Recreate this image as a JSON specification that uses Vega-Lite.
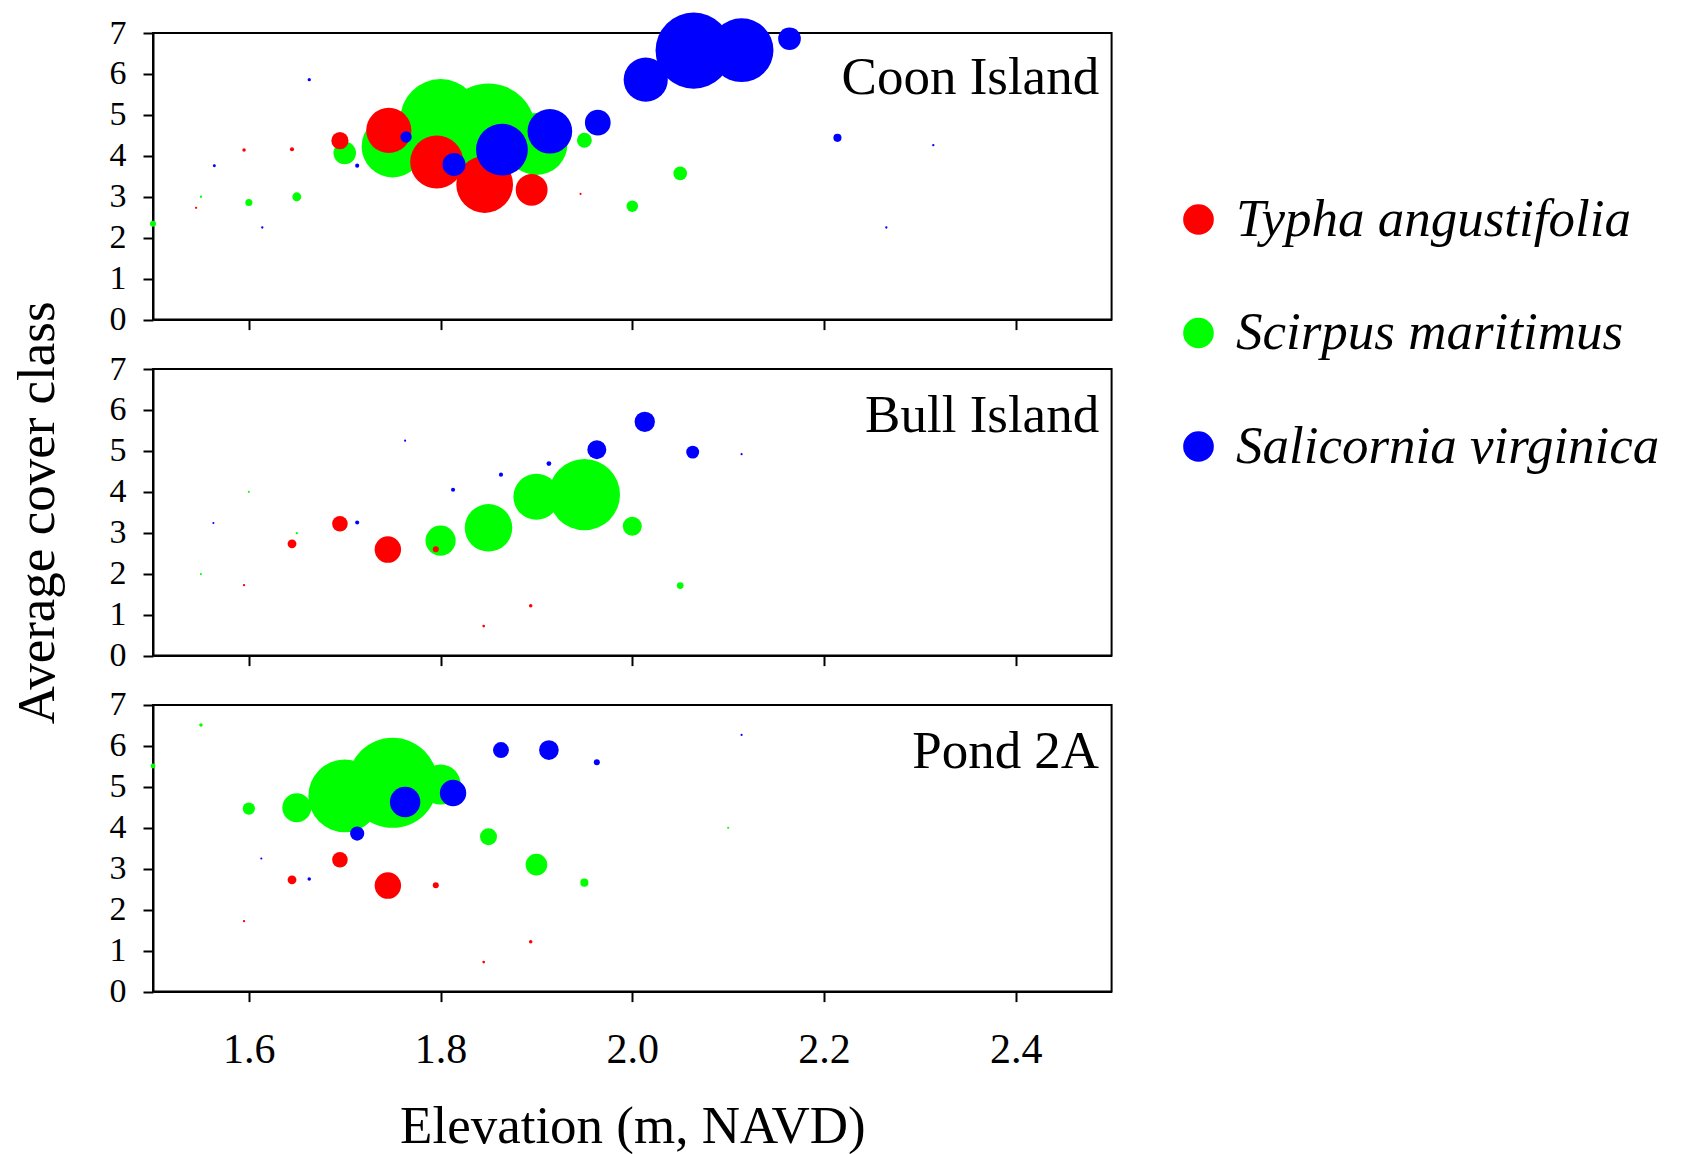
{
  "$schema": "https://vega.github.io/schema/vega-lite/v6.json",
  "background": "white",
  "padding": {"left": 11, "top": 11, "right": 0, "bottom": 0},
  "config": {
    "font": "Liberation Serif",
    "view": {"stroke": "black", "strokeWidth": 2},
    "axis": {"domainColor": "black", "domainWidth": 2, "tickColor": "black", "tickWidth": 2, "tickSize": 10, "grid": false, "labelColor": "black", "titleColor": "black", "labelFont": "Liberation Serif", "titleFont": "Liberation Serif", "titleFontWeight": "normal"},
    "legend": {"labelFont": "Liberation Serif"}
  },
  "datasets": {
    "points": [
      {"site": "Coon Island", "species": "Scirpus maritimus", "elev": 1.50, "cover": 2.34, "freq": 0.41},
      {"site": "Coon Island", "species": "Scirpus maritimus", "elev": 1.55, "cover": 3.00, "freq": 0.06},
      {"site": "Coon Island", "species": "Scirpus maritimus", "elev": 1.60, "cover": 2.86, "freq": 0.57},
      {"site": "Coon Island", "species": "Scirpus maritimus", "elev": 1.65, "cover": 3.00, "freq": 0.89},
      {"site": "Coon Island", "species": "Scirpus maritimus", "elev": 1.70, "cover": 4.07, "freq": 5.74},
      {"site": "Coon Island", "species": "Scirpus maritimus", "elev": 1.75, "cover": 4.23, "freq": 43.6},
      {"site": "Coon Island", "species": "Scirpus maritimus", "elev": 1.80, "cover": 4.89, "freq": 73.7},
      {"site": "Coon Island", "species": "Scirpus maritimus", "elev": 1.85, "cover": 4.62, "freq": 100},
      {"site": "Coon Island", "species": "Scirpus maritimus", "elev": 1.90, "cover": 4.29, "freq": 43.6},
      {"site": "Coon Island", "species": "Scirpus maritimus", "elev": 1.95, "cover": 4.38, "freq": 2.51},
      {"site": "Coon Island", "species": "Scirpus maritimus", "elev": 2.00, "cover": 2.77, "freq": 1.5},
      {"site": "Coon Island", "species": "Scirpus maritimus", "elev": 2.05, "cover": 3.57, "freq": 2.11},
      {"site": "Coon Island", "species": "Typha angustifolia", "elev": 1.545, "cover": 2.73, "freq": 0.06},
      {"site": "Coon Island", "species": "Typha angustifolia", "elev": 1.595, "cover": 4.14, "freq": 0.14},
      {"site": "Coon Island", "species": "Typha angustifolia", "elev": 1.645, "cover": 4.16, "freq": 0.19},
      {"site": "Coon Island", "species": "Typha angustifolia", "elev": 1.695, "cover": 4.37, "freq": 3.35},
      {"site": "Coon Island", "species": "Typha angustifolia", "elev": 1.746, "cover": 4.62, "freq": 23.1},
      {"site": "Coon Island", "species": "Typha angustifolia", "elev": 1.796, "cover": 3.85, "freq": 32.0},
      {"site": "Coon Island", "species": "Typha angustifolia", "elev": 1.846, "cover": 3.30, "freq": 36.5},
      {"site": "Coon Island", "species": "Typha angustifolia", "elev": 1.895, "cover": 3.17, "freq": 11.5},
      {"site": "Coon Island", "species": "Typha angustifolia", "elev": 1.946, "cover": 3.07, "freq": 0.05},
      {"site": "Coon Island", "species": "Salicornia virginica", "elev": 1.564, "cover": 3.76, "freq": 0.1},
      {"site": "Coon Island", "species": "Salicornia virginica", "elev": 1.614, "cover": 2.25, "freq": 0.06},
      {"site": "Coon Island", "species": "Salicornia virginica", "elev": 1.663, "cover": 5.86, "freq": 0.12},
      {"site": "Coon Island", "species": "Salicornia virginica", "elev": 1.713, "cover": 3.76, "freq": 0.19},
      {"site": "Coon Island", "species": "Salicornia virginica", "elev": 1.764, "cover": 4.46, "freq": 1.46},
      {"site": "Coon Island", "species": "Salicornia virginica", "elev": 1.814, "cover": 3.79, "freq": 6.0},
      {"site": "Coon Island", "species": "Salicornia virginica", "elev": 1.864, "cover": 4.15, "freq": 30.4},
      {"site": "Coon Island", "species": "Salicornia virginica", "elev": 1.914, "cover": 4.60, "freq": 22.6},
      {"site": "Coon Island", "species": "Salicornia virginica", "elev": 1.964, "cover": 4.81, "freq": 7.5},
      {"site": "Coon Island", "species": "Salicornia virginica", "elev": 2.014, "cover": 5.86, "freq": 22.1},
      {"site": "Coon Island", "species": "Salicornia virginica", "elev": 2.064, "cover": 6.57, "freq": 65.8},
      {"site": "Coon Island", "species": "Salicornia virginica", "elev": 2.114, "cover": 6.58, "freq": 46.1},
      {"site": "Coon Island", "species": "Salicornia virginica", "elev": 2.164, "cover": 6.86, "freq": 5.83},
      {"site": "Coon Island", "species": "Salicornia virginica", "elev": 2.214, "cover": 4.44, "freq": 0.75},
      {"site": "Coon Island", "species": "Salicornia virginica", "elev": 2.265, "cover": 2.25, "freq": 0.06},
      {"site": "Coon Island", "species": "Salicornia virginica", "elev": 2.314, "cover": 4.26, "freq": 0.06},

      {"site": "Bull Island", "species": "Scirpus maritimus", "elev": 1.55, "cover": 1.99, "freq": 0.05},
      {"site": "Bull Island", "species": "Scirpus maritimus", "elev": 1.60, "cover": 4.00, "freq": 0.05},
      {"site": "Bull Island", "species": "Scirpus maritimus", "elev": 1.65, "cover": 2.99, "freq": 0.06},
      {"site": "Bull Island", "species": "Scirpus maritimus", "elev": 1.80, "cover": 2.81, "freq": 10.3},
      {"site": "Bull Island", "species": "Scirpus maritimus", "elev": 1.85, "cover": 3.12, "freq": 25.6},
      {"site": "Bull Island", "species": "Scirpus maritimus", "elev": 1.90, "cover": 3.88, "freq": 24.1},
      {"site": "Bull Island", "species": "Scirpus maritimus", "elev": 1.95, "cover": 3.93, "freq": 57.5},
      {"site": "Bull Island", "species": "Scirpus maritimus", "elev": 2.00, "cover": 3.16, "freq": 4.08},
      {"site": "Bull Island", "species": "Scirpus maritimus", "elev": 2.05, "cover": 1.71, "freq": 0.51},
      {"site": "Bull Island", "species": "Typha angustifolia", "elev": 1.595, "cover": 1.72, "freq": 0.06},
      {"site": "Bull Island", "species": "Typha angustifolia", "elev": 1.645, "cover": 2.73, "freq": 0.89},
      {"site": "Bull Island", "species": "Typha angustifolia", "elev": 1.695, "cover": 3.22, "freq": 2.76},
      {"site": "Bull Island", "species": "Typha angustifolia", "elev": 1.745, "cover": 2.59, "freq": 7.9},
      {"site": "Bull Island", "species": "Typha angustifolia", "elev": 1.795, "cover": 2.60, "freq": 0.41},
      {"site": "Bull Island", "species": "Typha angustifolia", "elev": 1.845, "cover": 0.72, "freq": 0.08},
      {"site": "Bull Island", "species": "Typha angustifolia", "elev": 1.894, "cover": 1.22, "freq": 0.14},
      {"site": "Bull Island", "species": "Salicornia virginica", "elev": 1.563, "cover": 3.24, "freq": 0.05},
      {"site": "Bull Island", "species": "Salicornia virginica", "elev": 1.713, "cover": 3.25, "freq": 0.19},
      {"site": "Bull Island", "species": "Salicornia virginica", "elev": 1.763, "cover": 5.25, "freq": 0.05},
      {"site": "Bull Island", "species": "Salicornia virginica", "elev": 1.813, "cover": 4.05, "freq": 0.19},
      {"site": "Bull Island", "species": "Salicornia virginica", "elev": 1.863, "cover": 4.42, "freq": 0.19},
      {"site": "Bull Island", "species": "Salicornia virginica", "elev": 1.913, "cover": 4.69, "freq": 0.26},
      {"site": "Bull Island", "species": "Salicornia virginica", "elev": 1.963, "cover": 5.03, "freq": 4.08},
      {"site": "Bull Island", "species": "Salicornia virginica", "elev": 2.013, "cover": 5.71, "freq": 4.7},
      {"site": "Bull Island", "species": "Salicornia virginica", "elev": 2.063, "cover": 4.97, "freq": 1.9},
      {"site": "Bull Island", "species": "Salicornia virginica", "elev": 2.114, "cover": 4.92, "freq": 0.05},

      {"site": "Pond 2A", "species": "Scirpus maritimus", "elev": 1.50, "cover": 5.51, "freq": 0.26},
      {"site": "Pond 2A", "species": "Scirpus maritimus", "elev": 1.55, "cover": 6.51, "freq": 0.14},
      {"site": "Pond 2A", "species": "Scirpus maritimus", "elev": 1.60, "cover": 4.47, "freq": 1.7},
      {"site": "Pond 2A", "species": "Scirpus maritimus", "elev": 1.65, "cover": 4.49, "freq": 9.46},
      {"site": "Pond 2A", "species": "Scirpus maritimus", "elev": 1.70, "cover": 4.78, "freq": 59.8},
      {"site": "Pond 2A", "species": "Scirpus maritimus", "elev": 1.75, "cover": 5.10, "freq": 92.0},
      {"site": "Pond 2A", "species": "Scirpus maritimus", "elev": 1.80, "cover": 5.06, "freq": 18.2},
      {"site": "Pond 2A", "species": "Scirpus maritimus", "elev": 1.85, "cover": 3.78, "freq": 3.28},
      {"site": "Pond 2A", "species": "Scirpus maritimus", "elev": 1.90, "cover": 3.10, "freq": 5.3},
      {"site": "Pond 2A", "species": "Scirpus maritimus", "elev": 1.95, "cover": 2.66, "freq": 0.75},
      {"site": "Pond 2A", "species": "Scirpus maritimus", "elev": 2.10, "cover": 4.00, "freq": 0.05},
      {"site": "Pond 2A", "species": "Typha angustifolia", "elev": 1.595, "cover": 1.72, "freq": 0.06},
      {"site": "Pond 2A", "species": "Typha angustifolia", "elev": 1.645, "cover": 2.73, "freq": 0.89},
      {"site": "Pond 2A", "species": "Typha angustifolia", "elev": 1.695, "cover": 3.22, "freq": 2.76},
      {"site": "Pond 2A", "species": "Typha angustifolia", "elev": 1.745, "cover": 2.59, "freq": 7.9},
      {"site": "Pond 2A", "species": "Typha angustifolia", "elev": 1.795, "cover": 2.60, "freq": 0.41},
      {"site": "Pond 2A", "species": "Typha angustifolia", "elev": 1.845, "cover": 0.72, "freq": 0.08},
      {"site": "Pond 2A", "species": "Typha angustifolia", "elev": 1.894, "cover": 1.22, "freq": 0.14},
      {"site": "Pond 2A", "species": "Salicornia virginica", "elev": 1.613, "cover": 3.25, "freq": 0.05},
      {"site": "Pond 2A", "species": "Salicornia virginica", "elev": 1.663, "cover": 2.75, "freq": 0.14},
      {"site": "Pond 2A", "species": "Salicornia virginica", "elev": 1.713, "cover": 3.86, "freq": 2.28},
      {"site": "Pond 2A", "species": "Salicornia virginica", "elev": 1.763, "cover": 4.63, "freq": 10.5},
      {"site": "Pond 2A", "species": "Salicornia virginica", "elev": 1.813, "cover": 4.85, "freq": 7.9},
      {"site": "Pond 2A", "species": "Salicornia virginica", "elev": 1.863, "cover": 5.90, "freq": 2.88},
      {"site": "Pond 2A", "species": "Salicornia virginica", "elev": 1.913, "cover": 5.90, "freq": 4.39},
      {"site": "Pond 2A", "species": "Salicornia virginica", "elev": 1.963, "cover": 5.60, "freq": 0.41},
      {"site": "Pond 2A", "species": "Salicornia virginica", "elev": 2.114, "cover": 6.27, "freq": 0.05}
    ],
    "labels": [
      {"site": "Coon Island"},
      {"site": "Bull Island"},
      {"site": "Pond 2A"}
    ]
  },
  "bounds": "flush",
  "spacing": 49,
  "vconcat": [
    {
      "width": 958.6,
      "height": 286.6,
      "layer": [
        {
          "data": {"name": "points"},
          "transform": [{"filter": "datum.site === 'Coon Island'"}],
          "mark": {"type": "circle", "opacity": 1, "clip": false},
          "encoding": {
            "x": {"field": "elev", "type": "quantitative", "scale": {"domain": [1.5, 2.5], "nice": false, "zero": false}, "axis": {"values": [1.6, 1.8, 2.0, 2.2, 2.4], "labels": false, "title": null}},
            "y": {"field": "cover", "type": "quantitative", "scale": {"domain": [0, 7], "nice": false}, "axis": {"values": [0, 1, 2, 3, 4, 5, 6, 7], "labelFont": "Liberation Serif", "labelFontSize": 34, "labelPadding": 17, "title": null}},
            "color": {"field": "species", "type": "nominal", "scale": {"domain": ["Typha angustifolia", "Scirpus maritimus", "Salicornia virginica"], "range": ["#ff0000", "#00ff00", "#0000ff"]}, "legend": {"title": null, "orient": "none", "legendX": 1019, "legendY": 160, "padding": 0, "symbolType": "circle", "symbolSize": 940, "symbolStrokeWidth": 0, "symbolOpacity": 1, "labelFont": "Liberation Serif", "labelFontSize": 53, "labelFontStyle": "italic", "labelColor": "black", "labelOffset": 11, "labelBaseline": "middle", "rowPadding": 59.5, "labelLimit": 600}},
            "size": {"field": "freq", "type": "quantitative", "scale": {"domain": [0, 100], "range": [0, 8825]}, "legend": null}
          }
        },
        {
          "data": {"name": "labels"},
          "transform": [{"filter": "datum.site === 'Coon Island'"}],
          "mark": {"type": "text", "align": "right", "baseline": "alphabetic", "font": "Liberation Serif", "fontSize": 53, "color": "black"},
          "encoding": {"x": {"datum": 2.487}, "y": {"datum": 5.52}, "text": {"field": "site"}}
        }
      ]
    },
    {
      "width": 958.6,
      "height": 286.6,
      "layer": [
        {
          "data": {"name": "points"},
          "transform": [{"filter": "datum.site === 'Bull Island'"}],
          "mark": {"type": "circle", "opacity": 1, "clip": false},
          "encoding": {
            "x": {"field": "elev", "type": "quantitative", "scale": {"domain": [1.5, 2.5], "nice": false, "zero": false}, "axis": {"values": [1.6, 1.8, 2.0, 2.2, 2.4], "labels": false, "title": null}},
            "y": {"field": "cover", "type": "quantitative", "scale": {"domain": [0, 7], "nice": false}, "axis": {"values": [0, 1, 2, 3, 4, 5, 6, 7], "labelFont": "Liberation Serif", "labelFontSize": 34, "labelPadding": 17, "title": "Average cover class", "titleFont": "Liberation Serif", "titleFontSize": 53, "titlePadding": 44}},
            "color": {"field": "species", "type": "nominal"},
            "size": {"field": "freq", "type": "quantitative", "scale": {"domain": [0, 100], "range": [0, 8825]}, "legend": null}
          }
        },
        {
          "data": {"name": "labels"},
          "transform": [{"filter": "datum.site === 'Bull Island'"}],
          "mark": {"type": "text", "align": "right", "baseline": "alphabetic", "font": "Liberation Serif", "fontSize": 53, "color": "black"},
          "encoding": {"x": {"datum": 2.487}, "y": {"datum": 5.45}, "text": {"field": "site"}}
        }
      ]
    },
    {
      "width": 958.6,
      "height": 286.6,
      "layer": [
        {
          "data": {"name": "points"},
          "transform": [{"filter": "datum.site === 'Pond 2A'"}],
          "mark": {"type": "circle", "opacity": 1, "clip": false},
          "encoding": {
            "x": {"field": "elev", "type": "quantitative", "scale": {"domain": [1.5, 2.5], "nice": false, "zero": false}, "axis": {"values": [1.6, 1.8, 2.0, 2.2, 2.4], "format": ".1f", "labelFont": "Liberation Serif", "labelFontSize": 42, "labelPadding": 28, "title": "Elevation (m, NAVD)", "titleFont": "Liberation Serif", "titleFontSize": 53, "titlePadding": 30}},
            "y": {"field": "cover", "type": "quantitative", "scale": {"domain": [0, 7], "nice": false}, "axis": {"values": [0, 1, 2, 3, 4, 5, 6, 7], "labelFont": "Liberation Serif", "labelFontSize": 34, "labelPadding": 17, "title": null}},
            "color": {"field": "species", "type": "nominal"},
            "size": {"field": "freq", "type": "quantitative", "scale": {"domain": [0, 100], "range": [0, 8825]}, "legend": null}
          }
        },
        {
          "data": {"name": "labels"},
          "transform": [{"filter": "datum.site === 'Pond 2A'"}],
          "mark": {"type": "text", "align": "right", "baseline": "alphabetic", "font": "Liberation Serif", "fontSize": 53, "color": "black"},
          "encoding": {"x": {"datum": 2.487}, "y": {"datum": 5.47}, "text": {"field": "site"}}
        }
      ]
    }
  ]
}
